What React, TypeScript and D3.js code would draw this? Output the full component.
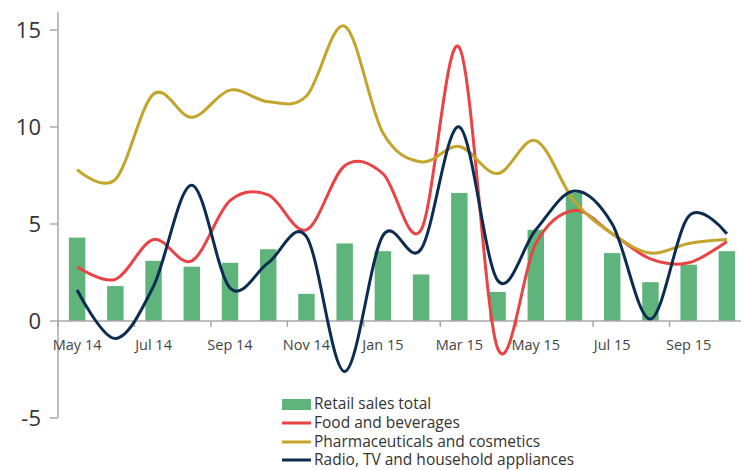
import React from 'react';
import * as d3 from 'd3';

// monthly categories, May 2014 – Oct 2015
const months = [
    'May 14', 'Jun 14', 'Jul 14', 'Aug 14', 'Sep 14', 'Oct 14', 'Nov 14', 'Dec 14', 'Jan 15',
    'Feb 15', 'Mar 15', 'Apr 15', 'May 15', 'Jun 15', 'Jul 15', 'Aug 15', 'Sep 15', 'Oct 15',
];

const retailTotal = [4.3, 1.8, 3.1, 2.8, 3.0, 3.7, 1.4, 4.0, 3.6, 2.4, 6.6, 1.5, 4.7, 6.6, 3.5, 2.0, 2.9, 3.6];
const foodBeverages = [2.8, 2.15, 4.2, 3.1, 6.2, 6.5, 4.7, 8.0, 7.6, 4.7, 14.1, -1.4, 4.0, 5.7, 4.5, 3.2, 3.0, 4.1];
const pharma = [7.8, 7.3, 11.7, 10.5, 11.9, 11.3, 11.6, 15.2, 9.7, 8.2, 9.0, 7.6, 9.3, 6.2, 4.5, 3.5, 4.0, 4.2];
const radioTv = [1.6, -0.9, 1.8, 7.0, 1.7, 3.0, 4.35, -2.6, 4.4, 3.7, 10.0, 2.1, 4.7, 6.7, 5.0, 0.1, 5.4, 4.5];

const yTicks = [-5, 0, 5, 10, 15];

const GREEN = '#5fb47c';
const RED = '#ea4345';
const GOLD = '#c4a52b';
const NAVY = '#0c2c52';
const AXIS = '#a8a8a8';
const FONT = '"Open Sans", Lato, sans-serif';

const lineSeries = [
    { name: 'Food and beverages', values: foodBeverages, color: RED },
    { name: 'Pharmaceuticals and cosmetics', values: pharma, color: GOLD },
    { name: 'Radio, TV and household appliances', values: radioTv, color: NAVY },
];

const App = () => {
    const width = 741;
    const height = 470;
    const left = 58;

    const x = d3.scaleBand<string>().domain(months).range([left, 746]).padding(0);
    const y = d3.scaleLinear().domain([-5, 15]).range([418, 30]);
    const cx = (m: string) => (x(m) as number) + x.bandwidth() / 2;
    const barW = x.bandwidth() * 0.43;

    const line = d3.line<number>()
        .x((_, i) => cx(months[i]))
        .y(d => y(d))
        .curve(d3.curveCardinal.tension(0));

    const legendX = 282;
    const legendY = [404, 423, 442, 460];

    return (
        <div style={{ position: 'absolute', left: 0, top: 0 }}>
            <svg width={width} height={height} style={{ display: 'block', fontFamily: FONT }}>
                {/* bars */}
                {retailTotal.map((v, i) => (
                    <rect key={i}
                        x={cx(months[i]) - barW / 2}
                        y={y(Math.max(0, v))}
                        width={barW}
                        height={Math.abs(y(v) - y(0))}
                        fill={GREEN} />
                ))}

                {/* y axis */}
                <line x1={left} x2={left} y1={12} y2={418} stroke={AXIS} strokeWidth={1.5} />
                {yTicks.map(t => (
                    <g key={t}>
                        <line x1={left - 8} x2={left} y1={y(t)} y2={y(t)} stroke={AXIS} strokeWidth={1.5} />
                        <text x={41} y={y(t)} dy="0.36em" textAnchor="end" fontSize={22} fill="#333">{t}</text>
                    </g>
                ))}

                {/* x axis */}
                <line x1={left} x2={width} y1={y(0)} y2={y(0)} stroke={AXIS} strokeWidth={1.5} />
                {months.map((m, i) => i % 2 === 0 ? (
                    <g key={m}>
                        <line x1={x(m)} x2={x(m)} y1={y(0)} y2={y(0) + 6} stroke={AXIS} strokeWidth={1.5} />
                        <text x={cx(m)} y={350} textAnchor="middle" fontSize={14.5} fill="#444">{m}</text>
                    </g>
                ) : null)}

                {/* lines */}
                {lineSeries.map(s => (
                    <path key={s.name} d={line(s.values) || ''} fill="none" stroke={s.color} strokeWidth={3} />
                ))}

                {/* legend */}
                <rect x={legendX} y={legendY[0] - 5} width={29} height={11} fill={GREEN} />
                <text x={legendX + 32} y={legendY[0]} dy="0.35em" fontSize={15.5} fill="#333">Retail sales total</text>
                {lineSeries.map((s, i) => (
                    <g key={s.name}>
                        <line x1={legendX} x2={legendX + 29} y1={legendY[i + 1]} y2={legendY[i + 1]} stroke={s.color} strokeWidth={3} />
                        <text x={legendX + 32} y={legendY[i + 1]} dy="0.35em" fontSize={15.5} fill="#333">{s.name}</text>
                    </g>
                ))}
            </svg>
        </div>
    );
};

export default App;
